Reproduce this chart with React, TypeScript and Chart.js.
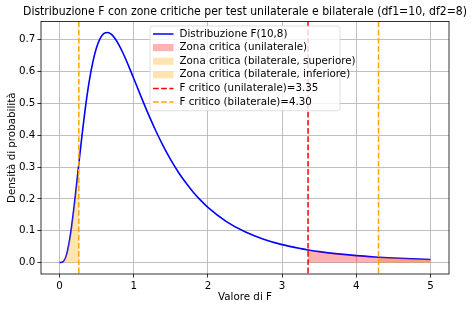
import React, { useEffect, useRef } from "react";
import { Chart, registerables } from "chart.js";

Chart.register(...registerables);

const fValues = [0, 0.05, 0.1, 0.15, 0.2, 0.25, 0.26, 0.3, 0.35, 0.4, 0.45, 0.5, 0.55, 0.6, 0.65, 0.7, 0.75, 0.8, 0.85, 0.9, 0.95, 1.0, 1.1, 1.2, 1.3, 1.4, 1.5, 1.6, 1.7, 1.8, 1.9, 2.0, 2.25, 2.5, 2.75, 3.0, 3.25, 3.35, 3.5, 3.75, 4.0, 4.25, 4.3, 4.5, 4.75, 5.0];
const density = [0, 0.0031, 0.0296, 0.0921, 0.1835, 0.2888, 0.3102, 0.394, 0.4892, 0.569, 0.6312, 0.6759, 0.7046, 0.7194, 0.7225, 0.7163, 0.7027, 0.6836, 0.6605, 0.6345, 0.6068, 0.5782, 0.5204, 0.4645, 0.4124, 0.365, 0.3224, 0.2845, 0.2511, 0.2217, 0.196, 0.1735, 0.1287, 0.0965, 0.0733, 0.0562, 0.0437, 0.0396, 0.0342, 0.0271, 0.0217, 0.0175, 0.0168, 0.0143, 0.0117, 0.0097];

const criticalUnilateral = 3.35;
const criticalBilateralUpper = 4.3;
const criticalBilateralLower = 0.26;

const xTicks = [0, 1, 2, 3, 4, 5];
const yTicks = [0, 0.1, 0.2, 0.3, 0.4, 0.5, 0.6, 0.7];

const titleText = "Distribuzione F con zone critiche per test unilaterale e bilaterale (df1=10, df2=8)";
const xLabel = "Valore di F";
const yLabel = "Densità di probabilità";
const legendLabels = [
  "Distribuzione F(10,8)",
  "Zona critica (unilaterale)",
  "Zona critica (bilaterale, superiore)",
  "Zona critica (bilaterale, inferiore)",
  "F critico (unilaterale)=3.35",
  "F critico (bilaterale)=4.30",
];

const FONT = '"DejaVu Sans", sans-serif';
const RED_FILL = "rgba(255,0,0,0.3)";
const ORANGE_FILL = "rgba(255,165,0,0.3)";
const DASH = [5.7, 2.5];

export default function App() {
  const canvasRef = useRef<HTMLCanvasElement | null>(null);

  useEffect(() => {
    document.body.style.margin = "0";
    const canvas = canvasRef.current;
    if (!canvas) return;

    const curve = fValues.map((x, i) => ({ x, y: density[i] }));
    const uniZone = curve.filter((p) => p.x >= criticalUnilateral);
    const upperZone = curve.filter((p) => p.x >= criticalBilateralUpper);
    const lowerZone = curve.filter((p) => p.x <= criticalBilateralLower);

    const decorPlugin = {
      id: "decor",
      afterDatasetsDraw(chart: any) {
        const { ctx, chartArea, scales } = chart;
        ctx.save();
        const lines = [
          { v: criticalUnilateral, c: "red" },
          { v: criticalBilateralUpper, c: "orange" },
          { v: criticalBilateralLower, c: "orange" },
        ];
        ctx.lineWidth = 1.5;
        ctx.setLineDash(DASH);
        for (const l of lines) {
          const px = scales.x.getPixelForValue(l.v);
          ctx.strokeStyle = l.c;
          ctx.beginPath();
          ctx.moveTo(px, chartArea.top);
          ctx.lineTo(px, chartArea.bottom);
          ctx.stroke();
        }
        ctx.setLineDash([]);
        ctx.strokeStyle = "black";
        ctx.lineWidth = 0.8;
        ctx.strokeRect(chartArea.left, chartArea.top, chartArea.right - chartArea.left, chartArea.bottom - chartArea.top);
        ctx.restore();
      },
      afterDraw(chart: any) {
        const { ctx, chartArea } = chart;
        ctx.save();
        const cx = (chartArea.left + chartArea.right) / 2;
        ctx.fillStyle = "black";
        ctx.textAlign = "center";
        ctx.textBaseline = "middle";
        ctx.font = `12.3px ${FONT}`;
        const w = ctx.measureText(titleText).width;
        const sx = Math.min(1, 444 / w);
        ctx.save();
        ctx.translate(cx, 11.5);
        ctx.scale(sx, 1);
        ctx.fillText(titleText, 0, 0);
        ctx.restore();
        ctx.font = `10.3px ${FONT}`;
        ctx.fillText(xLabel, cx, 297.5);
        ctx.save();
        ctx.translate(12, (chartArea.top + chartArea.bottom) / 2);
        ctx.rotate(-Math.PI / 2);
        ctx.fillText(yLabel, 0, 0);
        ctx.restore();

        const lx = 150, ly = 26, lw = 190, lh = 84.7, r = 2.5;
        ctx.beginPath();
        ctx.moveTo(lx + r, ly);
        ctx.arcTo(lx + lw, ly, lx + lw, ly + lh, r);
        ctx.arcTo(lx + lw, ly + lh, lx, ly + lh, r);
        ctx.arcTo(lx, ly + lh, lx, ly, r);
        ctx.arcTo(lx, ly, lx + lw, ly, r);
        ctx.closePath();
        ctx.fillStyle = "rgba(255,255,255,0.8)";
        ctx.fill();
        ctx.strokeStyle = "rgba(204,204,204,0.8)";
        ctx.lineWidth = 0.8;
        ctx.stroke();

        const hx0 = 153, hx1 = 173.5;
        legendLabels.forEach((label, i) => {
          const y = 34 + i * 13.6;
          if (i === 0) {
            ctx.strokeStyle = "blue";
            ctx.lineWidth = 1.5;
            ctx.setLineDash([]);
            ctx.beginPath();
            ctx.moveTo(hx0, y);
            ctx.lineTo(hx1, y);
            ctx.stroke();
          } else if (i <= 3) {
            ctx.fillStyle = i === 1 ? RED_FILL : ORANGE_FILL;
            ctx.fillRect(hx0, y - 3.6, hx1 - hx0, 7.2);
          } else {
            ctx.strokeStyle = i === 4 ? "red" : "orange";
            ctx.lineWidth = 1.5;
            ctx.setLineDash(DASH);
            ctx.beginPath();
            ctx.moveTo(hx0, y);
            ctx.lineTo(hx1, y);
            ctx.stroke();
            ctx.setLineDash([]);
          }
          ctx.fillStyle = "black";
          ctx.font = `10.3px ${FONT}`;
          ctx.textAlign = "left";
          ctx.textBaseline = "middle";
          ctx.fillText(label, 179.5, y);
        });
        ctx.restore();
      },
    };

    const chart = new Chart(canvas, {
      type: "line",
      data: {
        datasets: [
          { data: uniZone, backgroundColor: RED_FILL, borderWidth: 0, pointRadius: 0, fill: "origin" },
          { data: upperZone, backgroundColor: ORANGE_FILL, borderWidth: 0, pointRadius: 0, fill: "origin" },
          { data: lowerZone, backgroundColor: ORANGE_FILL, borderWidth: 0, pointRadius: 0, fill: "origin" },
          {
            data: curve,
            borderColor: "blue",
            borderWidth: 1.6,
            pointRadius: 0,
            fill: false,
            cubicInterpolationMode: "monotone",
          },
        ],
      },
      options: {
        responsive: false,
        animation: false,
        events: [],
        layout: { padding: { left: 0, top: 21.5, right: 25, bottom: 0 } },
        plugins: {
          legend: { display: false },
          title: { display: false },
          tooltip: { enabled: false },
        },
        scales: {
          x: {
            type: "linear",
            min: -0.25,
            max: 5.25,
            afterBuildTicks: (scale: any) => {
              scale.ticks = xTicks.map((v) => ({ value: v }));
            },
            afterFit: (scale: any) => {
              scale.height = 35;
            },
            ticks: {
              font: { family: FONT, size: 10.3 },
              color: "black",
              padding: 3,
              maxRotation: 0,
              callback: (v: any) => String(v),
            },
            grid: {
              color: "#b0b0b0",
              lineWidth: 0.8,
              drawTicks: true,
              tickLength: 3.6,
              tickColor: "black",
              tickWidth: 0.8,
            },
            border: { display: false },
          },
          y: {
            type: "linear",
            min: -0.036,
            max: 0.757,
            afterBuildTicks: (scale: any) => {
              scale.ticks = yTicks.map((v) => ({ value: v }));
            },
            afterFit: (scale: any) => {
              scale.width = 41;
            },
            ticks: {
              font: { family: FONT, size: 10.3 },
              color: "black",
              padding: 2,
              callback: (v: any) => Number(v).toFixed(1),
            },
            grid: {
              color: "#b0b0b0",
              lineWidth: 0.8,
              drawTicks: true,
              tickLength: 3.6,
              tickColor: "black",
              tickWidth: 0.8,
            },
            border: { display: false },
          },
        },
      },
      plugins: [decorPlugin],
    } as any);

    return () => chart.destroy();
  }, []);

  return (
    <div style={{ position: "absolute", left: 0, top: 0, width: 474, height: 309, background: "white" }}>
      <canvas ref={canvasRef} width={474} height={309} />
    </div>
  );
}
